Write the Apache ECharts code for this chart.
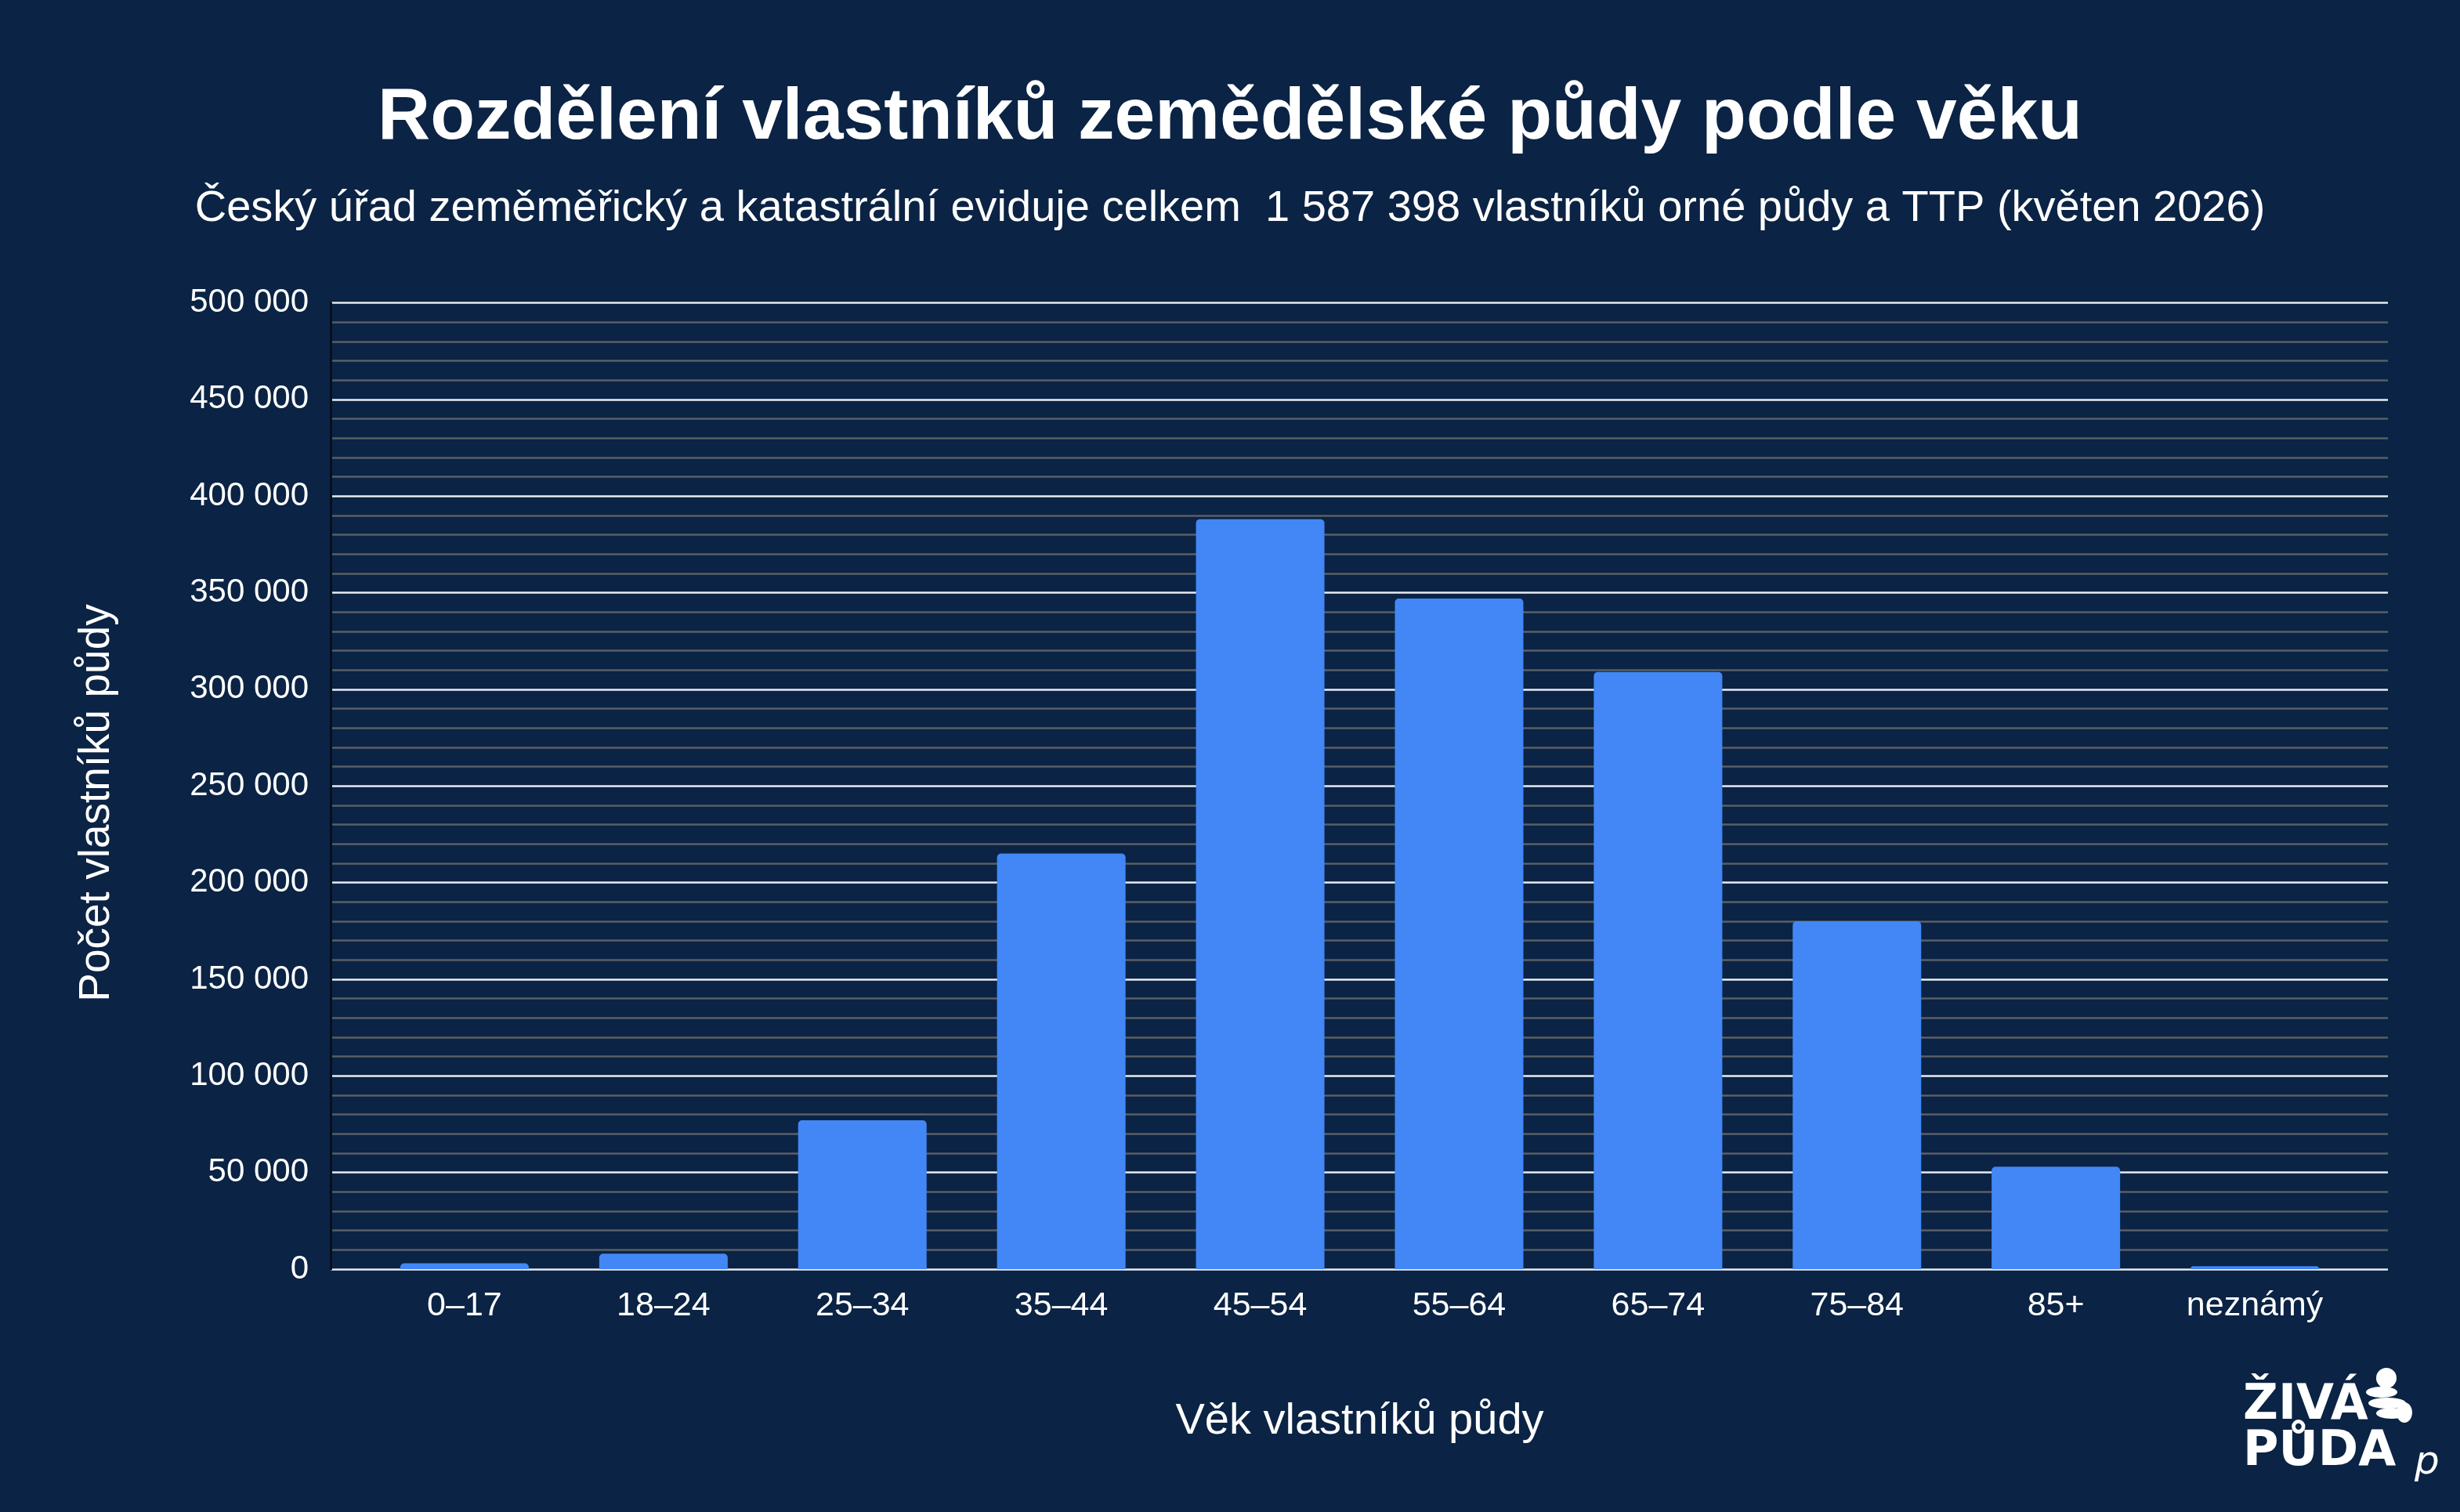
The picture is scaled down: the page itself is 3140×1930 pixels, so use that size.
<!DOCTYPE html>
<html>
<head>
<meta charset="utf-8">
<script src="https://cdn.jsdelivr.net/npm/echarts@6/dist/echarts.min.js"></script>
<style>
  html, body { margin: 0; padding: 0; background: #0b2344; }
  #chart { width: 3140px; height: 1930px; }
</style>
</head>
<body>
<div id="chart"></div>
<script>
const categories = ['0–17', '18–24', '25–34', '35–44', '45–54', '55–64', '65–74', '75–84', '85+', 'neznámý'];
const owners = [3000, 8000, 77000, 215000, 388000, 347000, 309000, 180000, 53000, 1500];
const yMin = 0;
const yMax = 500000;
const yInterval = 50000;

const titleText = 'Rozdělení vlastníků zemědělské půdy podle věku';
const subtitleText = 'Český úřad zeměměřický a katastrální eviduje celkem  1 587 398 vlastníků orné půdy a TTP (květen 2026)';
const xName = 'Věk vlastníků půdy';
const yName = 'Počet vlastníků půdy';

const FONT = '"Liberation Sans", Arial, sans-serif';
const fmt = v => String(v).replace(/\B(?=(\d{3})+(?!\d))/g, ' ');

const chart = echarts.init(document.getElementById('chart'));
chart.setOption({
  backgroundColor: '#0b2344',
  animation: false,
  title: [
    { text: titleText, left: 'center', top: 100,
      textStyle: { color: '#ffffff', fontSize: 93, fontWeight: 'bold', fontFamily: FONT } },
    { text: subtitleText, left: 'center', top: 234,
      textStyle: { color: '#ffffff', fontSize: 56, fontWeight: 'normal', fontFamily: FONT } }
  ],
  grid: [
    { left: 422, right: 92, top: 386.5, bottom: 310 },
    { left: 466, right: 135, top: 386.5, bottom: 310 }
  ],
  xAxis: [
    { gridIndex: 0, type: 'value', show: false, min: 0, max: 1 },
    { gridIndex: 1, type: 'category', data: categories,
      axisLine: { show: false }, axisTick: { show: false },
      axisLabel: { color: '#ffffff', fontSize: 43, fontFamily: FONT, margin: 26 },
      name: xName, nameLocation: 'middle', nameGap: 167,
      nameTextStyle: { color: '#ffffff', fontSize: 56, fontFamily: FONT } }
  ],
  yAxis: [
    { gridIndex: 0, type: 'value', min: yMin, max: yMax, interval: yInterval,
      axisLine: { show: true, lineStyle: { color: '#06101f', width: 3 } },
      axisTick: { show: false },
      axisLabel: { color: '#ffffff', fontSize: 42, fontFamily: FONT, margin: 28, formatter: fmt },
      splitLine: { show: true, lineStyle: { color: '#e8ecf2', width: 2.5 } },
      minorTick: { show: false, splitNumber: 5 },
      minorSplitLine: { show: true, lineStyle: { color: '#5a5f66', width: 2.5 } } },
    { gridIndex: 1, type: 'value', min: yMin, max: yMax, interval: yInterval, show: false,
      splitLine: { show: false } }
  ],
  series: [
    { type: 'bar', xAxisIndex: 1, yAxisIndex: 1, data: owners, barWidth: '64.6%',
      itemStyle: { color: '#4287f5', borderRadius: [5, 5, 0, 0] } }
  ],
  graphic: [
    { type: 'text', x: 124, y: 1025, rotation: Math.PI / 2,
      style: { text: yName, fill: '#ffffff', font: '55px "Liberation Sans", Arial, sans-serif',
               textAlign: 'center', textVerticalAlign: 'middle' } },
    { type: 'text', x: 2863, y: 1795,
      style: { text: 'ŽIVÁ', fill: '#ffffff', font: 'bold 62px "DejaVu Sans", sans-serif',
               textAlign: 'left', textVerticalAlign: 'middle' } },
    { type: 'text', x: 2863, y: 1854,
      style: { text: 'PŮDA', fill: '#ffffff', font: 'bold 62px "DejaVu Sans", sans-serif',
               textAlign: 'left', textVerticalAlign: 'middle' } },
    { type: 'text', x: 3082, y: 1868,
      style: { text: 'p', fill: '#ffffff', font: 'italic 50px "DejaVu Sans", sans-serif',
               textAlign: 'left', textVerticalAlign: 'middle' } },
    { type: 'circle', shape: { cx: 3046, cy: 1759, r: 13 }, style: { fill: '#ffffff' } },
    { type: 'ellipse', shape: { cx: 3040, cy: 1777, rx: 20, ry: 7 }, style: { fill: '#ffffff' } },
    { type: 'ellipse', shape: { cx: 3047, cy: 1791, rx: 24, ry: 7 }, style: { fill: '#ffffff' } },
    { type: 'ellipse', shape: { cx: 3053, cy: 1804, rx: 20, ry: 7 }, style: { fill: '#ffffff' } },
    { type: 'ellipse', shape: { cx: 3069, cy: 1803, rx: 10, ry: 13 }, style: { fill: '#ffffff' } }
  ]
});
</script>
</body>
</html>
